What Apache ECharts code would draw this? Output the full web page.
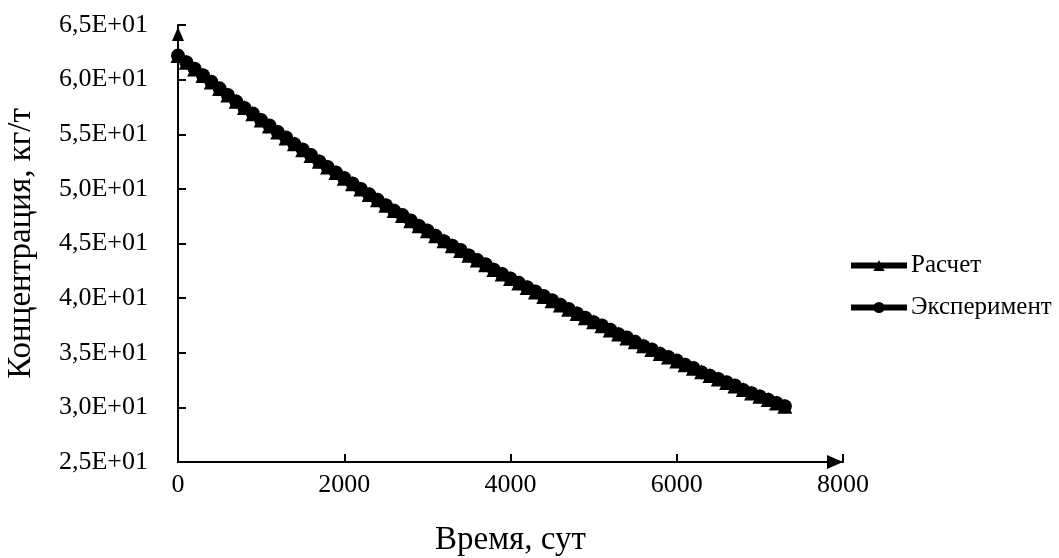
<!DOCTYPE html>
<html>
<head>
<meta charset="utf-8">
<script src="https://cdn.jsdelivr.net/npm/echarts@6/dist/echarts.min.js"></script>
<style>html,body{margin:0;padding:0;background:#fff}#c{width:1059px;height:558px}</style>
</head>
<body>
<div id="c"></div>
<script>
const timeDays = [0,100,200,300,400,500,600,700,800,900,1000,1100,1200,1300,1400,1500,1600,1700,1800,1900,2000,2100,2200,2300,2400,2500,2600,2700,2800,2900,3000,3100,3200,3300,3400,3500,3600,3700,3800,3900,4000,4100,4200,4300,4400,4500,4600,4700,4800,4900,5000,5100,5200,5300,5400,5500,5600,5700,5800,5900,6000,6100,6200,6300,6400,6500,6600,6700,6800,6900,7000,7100,7200,7300];
const calcValues = [62.20,61.58,60.98,60.37,59.78,59.18,58.60,58.02,57.44,56.88,56.31,55.76,55.20,54.66,54.12,53.58,53.05,52.53,52.01,51.49,50.98,50.48,49.98,49.49,49.00,48.51,48.03,47.56,47.09,46.62,46.16,45.70,45.25,44.80,44.36,43.92,43.49,43.06,42.63,42.21,41.79,41.38,40.97,40.56,40.16,39.76,39.37,38.98,38.59,38.21,37.83,37.46,37.09,36.72,36.36,36.00,35.64,35.29,34.94,34.60,34.25,33.91,33.58,33.25,32.92,32.59,32.27,31.95,31.64,31.32,31.01,30.71,30.40,30.10];
const expValues = [62.2,61.6,61.0,60.4,59.8,59.2,58.6,58.0,57.4,56.9,56.3,55.8,55.2,54.7,54.1,53.6,53.1,52.5,52.0,51.5,51.0,50.5,50.0,49.5,49.0,48.5,48.0,47.6,47.1,46.6,46.2,45.7,45.2,44.8,44.4,43.9,43.5,43.1,42.6,42.2,41.8,41.4,41.0,40.6,40.2,39.8,39.4,39.0,38.6,38.2,37.8,37.5,37.1,36.7,36.4,36.0,35.6,35.3,34.9,34.6,34.3,33.9,33.6,33.2,32.9,32.6,32.3,32.0,31.6,31.3,31.0,30.7,30.4,30.1];
const yTickValues = [25,30,35,40,45,50,55,60,65];
const yTickLabels = ['2,5E+01','3,0E+01','3,5E+01','4,0E+01','4,5E+01','5,0E+01','5,5E+01','6,0E+01','6,5E+01'];
const xTickLabels = ['0','2000','4000','6000','8000'];
const seriesNames = ['Расчет','Эксперимент'];

const FONT = '"Liberation Serif", "Times New Roman", serif';
const chart = echarts.init(document.getElementById('c'), null, {renderer:'canvas'});
chart.setOption({
  animation:false,
  backgroundColor:'#fff',
  textStyle:{fontFamily:FONT,color:'#000'},
  grid:{left:178,right:216,top:25,bottom:96,containLabel:false,outerBoundsMode:'none'},
  legend:{
    orient:'vertical', left:843, top:248,
    itemWidth:56, itemHeight:14, itemGap:17,
    lineStyle:{width:6,color:'#000'},
    textStyle:{fontFamily:FONT,fontSize:25,color:'#000',padding:[0,0,0,-1]},
    data:seriesNames
  },
  xAxis:{
    type:'value', min:0, max:8000, interval:2000,
    name:'Время, сут', nameLocation:'middle', nameGap:62,
    nameTextStyle:{fontFamily:FONT,fontSize:33,color:'#000'},
    axisLine:{show:true,onZero:false,lineStyle:{color:'#000',width:2},symbol:['none','triangle'],symbolSize:[14,16],symbolOffset:[0,-8]},
    axisTick:{show:true,inside:true,length:8,lineStyle:{color:'#000',width:2}},
    axisLabel:{fontFamily:FONT,fontSize:26,color:'#000',margin:10,formatter:(v)=>xTickLabels[Math.round(v/2000)]},
    splitLine:{show:false}
  },
  yAxis:{
    type:'value', min:25, max:65, interval:5,
    name:'Концентрация, кг/т', nameLocation:'middle', nameGap:140, nameRotate:90,
    nameTextStyle:{fontFamily:FONT,fontSize:33,color:'#000'},
    axisLine:{show:true,onZero:false,lineStyle:{color:'#000',width:2},symbol:['none','triangle'],symbolSize:[12,14],symbolOffset:[0,-9]},
    axisTick:{show:true,inside:true,length:8,lineStyle:{color:'#000',width:2}},
    axisLabel:{fontFamily:FONT,fontSize:26,color:'#000',margin:30,formatter:(v)=>{const i=yTickValues.indexOf(Math.round(v));return i>=0?yTickLabels[i]:'';}},
    splitLine:{show:false}
  },
  series:[
    {name:seriesNames[0],type:'line',data:timeDays.map((t,i)=>[t,calcValues[i]]),
     symbol:'triangle',symbolSize:15,showAllSymbol:true,
     lineStyle:{color:'#000',width:8},itemStyle:{color:'#000'}},
    {name:seriesNames[1],type:'line',data:timeDays.map((t,i)=>[t,expValues[i]]),
     symbol:'circle',symbolSize:14,showAllSymbol:true,
     lineStyle:{color:'#000',width:8},itemStyle:{color:'#000'}}
  ]
});
</script>
</body>
</html>
